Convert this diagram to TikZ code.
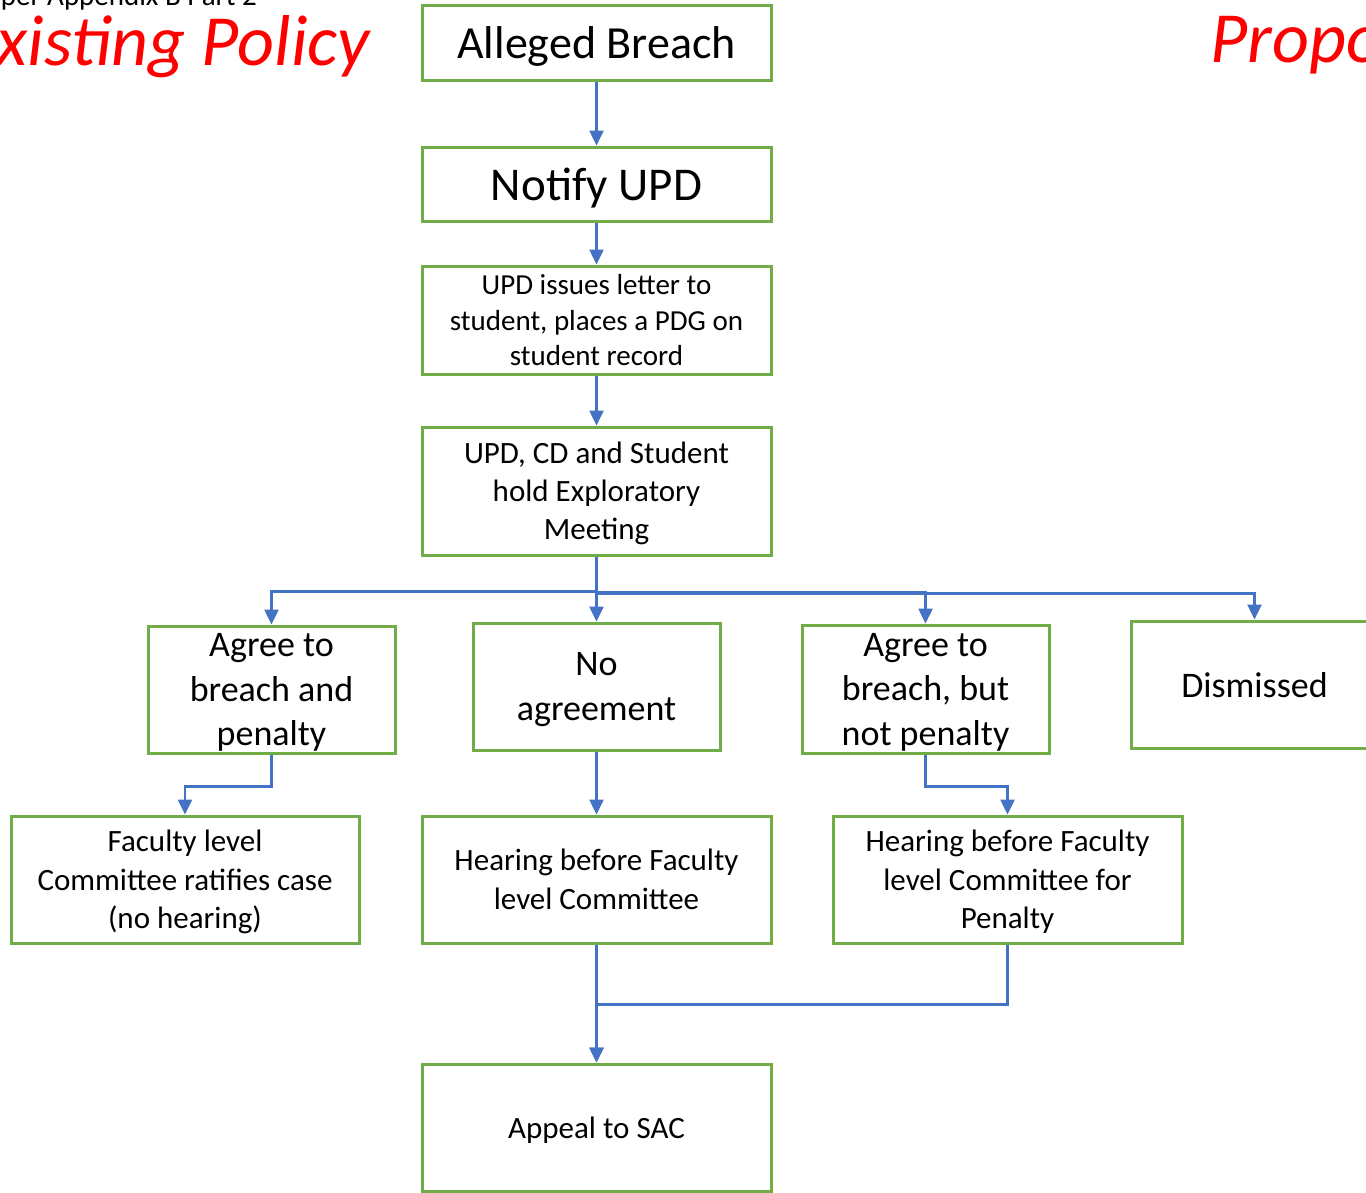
\documentclass[tikz,border=0pt]{standalone}
\usepackage{fontspec}
\setmainfont{Carlito}
\usetikzlibrary{arrows.meta}
\definecolor{boxgreen}{HTML}{70AD47}
\definecolor{linkblue}{HTML}{4472C4}
\definecolor{titlered}{HTML}{FF0000}
\begin{document}
\begin{tikzpicture}[x=1pt,y=-1pt,
  box/.style={draw=boxgreen,line width=3pt,fill=white,align=center,inner sep=0pt,text depth=0pt},
  conn/.style={draw=linkblue,line width=2.5pt,-{Triangle[width=14pt,length=15pt]}}]
\useasboundingbox (0,0) rectangle (1366,1192);
\clip (0,0) rectangle (1366,1192);
\fill[white] (0,0) rectangle (1366,1192);
% headers
\node[anchor=base east,inner sep=0pt,font=\fontsize{29}{35}\selectfont] (hdr) at (257,5) {Paper Appendix B Part 2};
\node[anchor=base east,inner sep=0pt,text=titlered,font=\fontsize{72}{86}\selectfont\itshape] (exist) at (370,65) {Existing Policy};
\node[anchor=base west,inner sep=0pt,text=titlered,font=\fontsize{72}{86}\selectfont\itshape] (prop) at (1210,62) {Proposed Policy};
% boxes
\node[box,minimum width=349pt,minimum height=75pt,font=\fontsize{46}{55}\selectfont] (ab) at (596.5,42.5) {Alleged Breach};
\node[box,minimum width=349pt,minimum height=74pt,font=\fontsize{47}{56}\selectfont] (nu) at (596.5,184) {Notify UPD};
\node[box,minimum width=349pt,minimum height=108pt,font=\fontsize{29}{35.5}\selectfont] (ul) at (596.5,320) {UPD issues letter to\\student, places a PDG on\\student record};
\node[box,minimum width=349pt,minimum height=128pt,font=\fontsize{31}{38}\selectfont] (em) at (596.5,491) {UPD, CD and Student\\hold Exploratory\\Meeting};
\node[box,minimum width=247pt,minimum height=127pt,font=\fontsize{36}{44.5}\selectfont] (ap) at (271.5,689.5) {Agree to\\breach and\\penalty};
\node[box,minimum width=247pt,minimum height=127pt,font=\fontsize{36}{45}\selectfont] (na) at (596.5,686.5) {No\\agreement};
\node[box,minimum width=247pt,minimum height=128pt,font=\fontsize{36}{44.5}\selectfont] (bn) at (925.5,689) {Agree to\\breach, but\\not penalty};
\node[box,minimum width=247pt,minimum height=127pt,font=\fontsize{36}{44}\selectfont] (di) at (1254.5,684.5) {Dismissed};
\node[box,minimum width=348pt,minimum height=127pt,font=\fontsize{31}{38.5}\selectfont] (fl) at (185,879.5) {Faculty level\\Committee ratifies case\\(no hearing)};
\node[box,minimum width=349pt,minimum height=127pt,font=\fontsize{31}{39}\selectfont] (hf) at (596.5,879.5) {Hearing before Faculty\\level Committee};
\node[box,minimum width=349pt,minimum height=127pt,font=\fontsize{31}{38.5}\selectfont] (hp) at (1007.5,879.5) {Hearing before Faculty\\level Committee for\\Penalty};
\node[box,minimum width=349pt,minimum height=127pt,font=\fontsize{31}{38}\selectfont] (sac) at (596.5,1127.5) {Appeal to SAC};
% connectors
\draw[conn] (ab) -- (nu);
\draw[conn] (nu) -- (ul);
\draw[conn] (ul) -- (em);
\draw[conn] (em.south) -- ++(0,35) -| (ap.north);
\draw[conn] (em.south) -- (na.north);
\draw[conn] (em.south) -- ++(0,36) -| (bn.north);
\draw[conn] (em.south) -- ++(0,37) -| (di.north);
\draw[conn] (ap.south) -- ++(0,32) -| (fl.north);
\draw[conn] (na.south) -- (hf.north);
\draw[conn] (bn.south) -- ++(0,32) -| (hp.north);
\draw[conn] (hf.south) -- (sac.north);
\draw[conn] (hp.south) -- ++(0,60) -| (sac.north);
\end{tikzpicture}
\end{document}
